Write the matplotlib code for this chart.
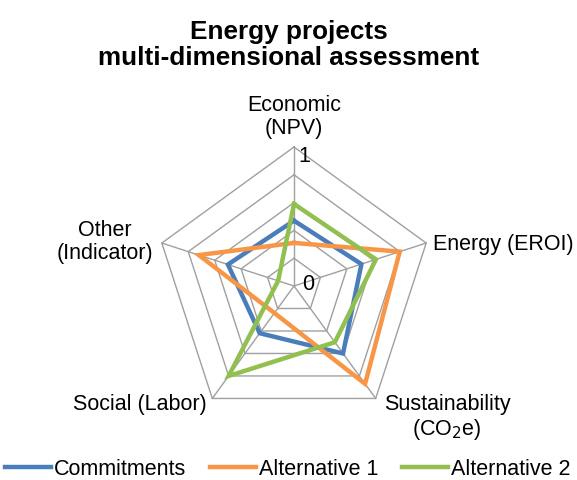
# -*- coding: utf-8 -*-

""" Radar chart - energy projects multi-dimensional assessment """

import matplotlib
matplotlib.use('Agg')
import matplotlib.pyplot as plt
import numpy as np

plt.rcParams['font.family'] = ['Liberation Sans', 'DejaVu Sans']

# => DATA
categories = ['Economic\n(NPV)', 'Energy (EROI)', 'Sustainability\n(CO$_2$e)',
              'Social (Labor)', 'Other\n(Indicator)']
commitments = [0.47, 0.51, 0.60, 0.42, 0.50]
alternative_1 = [0.31, 0.80, 0.87, 0.24, 0.72]
alternative_2 = [0.59, 0.62, 0.50, 0.80, 0.12]
rings = [0.2, 0.4, 0.6, 0.8, 1.0]

series = [
    ('Commitments', commitments, '#4a7ebb'),
    ('Alternative 1', alternative_1, '#f79646'),
    ('Alternative 2', alternative_2, '#92c050'),
]

W, H = 577, 481
CX, CY, R = 294, 287, 139
FS = 15.5

fig = plt.figure(figsize=(W / 100, H / 100), dpi=100)
ax = fig.add_axes([0, 0, 1, 1])
ax.set_xlim(-CX / R, (W - CX) / R)
ax.set_ylim(-(H - CY) / R, CY / R)
ax.axis('off')

# clockwise from the top
angles = np.deg2rad(90 - 72 * np.arange(len(categories)))


def to_xy(values):
    v = np.append(values, values[0])
    a = np.append(angles, angles[0])
    return v * np.cos(a), v * np.sin(a)


# => GRID
for r in rings:
    x, y = to_xy(np.full(len(categories), r))
    ax.plot(x, y, color='#a0a0a0', lw=1.0, zorder=1)
for a in angles:
    ax.plot([0, np.cos(a)], [0, np.sin(a)], color='#a0a0a0', lw=1.0, zorder=1)

# => SERIES
for label, vals, color in series:
    x, y = to_xy(np.array(vals))
    ax.plot(x, y, color=color, lw=3.2, label=label, zorder=3,
            solid_joinstyle='miter')


# => pixel positions converted to data units
def px(x, y):
    return (x - CX) / R, (CY - y) / R


# => SCALE LABELS
ax.text(*px(304, 157), '1', fontsize=FS, ha='center', va='center', zorder=4)
ax.text(*px(308, 285), '0', fontsize=FS, ha='center', va='center', zorder=4)

# => CATEGORY LABELS
ax.text(*px(294, 117), categories[0], fontsize=FS, ha='center', va='center',
        linespacing=1.1)
ax.text(*px(433, 245), categories[1], fontsize=FS, ha='left', va='center')
ax.text(*px(447, 418), categories[2], fontsize=FS, ha='center', va='center',
        linespacing=1.1)
ax.text(*px(207, 405), categories[3], fontsize=FS, ha='right', va='center')
ax.text(*px(105, 242), categories[4], fontsize=FS, ha='center', va='center',
        linespacing=1.1)

# => TITLE
fig.text(0.5, 1 - 45 / H, 'Energy projects\nmulti-dimensional assessment',
         fontsize=18.8, fontweight='bold', ha='center', va='center',
         linespacing=1.1)

# => LEGEND
fig.legend(loc='center left', bbox_to_anchor=(5 / W, 1 - 470 / H), ncol=3,
           frameon=False, fontsize=FS, handlelength=2.15, handletextpad=0.12,
           columnspacing=1.1, borderaxespad=0, borderpad=0)

fig.savefig('out.png', dpi=100)
